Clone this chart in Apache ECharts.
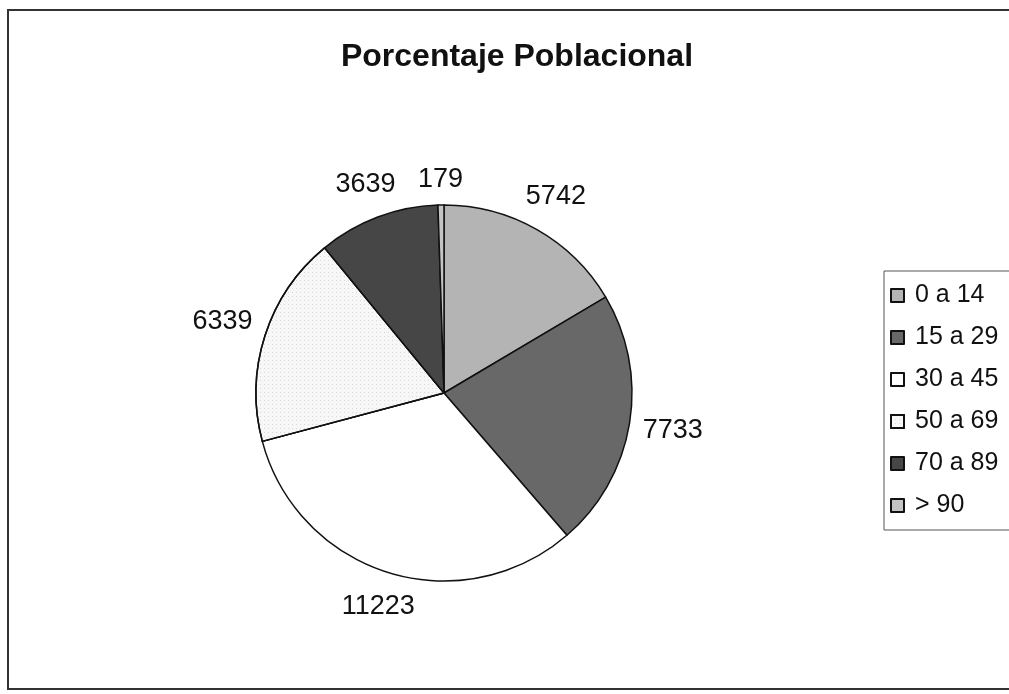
<!DOCTYPE html>
<html>
<head>
<meta charset="utf-8">
<title>Porcentaje Poblacional</title>
<script src="https://cdn.jsdelivr.net/npm/echarts@6/dist/echarts.min.js"></script>
<style>
  html, body { margin: 0; padding: 0; background: #fff; }
  #chart { width: 1009px; height: 694px; }
</style>
</head>
<body>
<div id="chart"></div>
<script>
// grupos de edad y población
const categories = ['0 a 14', '15 a 29', '30 a 45', '50 a 69', '70 a 89', '> 90']
const values = [5742, 7733, 11223, 6339, 3639, 179]
// tonos de gris de cada porción
const colors = ['#b4b4b4', '#686868', '#ffffff', '#f7f7f7', '#464646', '#c4c4c4']

const font = '"Liberation Sans", Arial, sans-serif'
const pieCenter = [444, 393]
const pieRadius = 188
const labelGap = 200 // distancia del centro al borde más cercano de la etiqueta

// ángulo medio de cada porción (desde las 12, sentido horario)
const total = values.reduce((a, b) => a + b, 0)
let acc = 0
const midAngles = values.map(v => {
  const a = (acc + v / 2) / total * Math.PI * 2
  acc += v
  return a
})

const chart = echarts.init(document.getElementById('chart'))

chart.setOption({
  animation: false,
  backgroundColor: '#fff',
  title: {
    text: 'Porcentaje Poblacional',
    left: 512,
    textAlign: 'center',
    top: 36,
    textStyle: { fontFamily: font, fontSize: 32, fontWeight: 'bold', color: '#111' }
  },
  // marco exterior
  graphic: [{
    type: 'rect',
    shape: { x: 8, y: 10, width: 1030, height: 679 },
    style: { fill: 'none', stroke: '#333', lineWidth: 2 }
  }],
  legend: {
    orient: 'vertical',
    left: 884,
    top: 271,
    data: categories,
    icon: 'rect',
    itemWidth: 13,
    itemHeight: 13,
    itemGap: 17,
    padding: [12, 40, 12, 6],
    borderColor: '#555',
    borderWidth: 1,
    textStyle: { fontFamily: font, fontSize: 25, color: '#111', padding: [0, 0, 0, 6] }
  },
  series: [{
    type: 'pie',
    center: pieCenter,
    radius: pieRadius,
    startAngle: 90,
    clockwise: true,
    data: categories.map((c, i) => ({
      name: c,
      value: values[i],
      itemStyle: i === 3
        ? { color: colors[i], decal: { symbol: 'rect', symbolSize: 1, dashArrayX: [1, 3], dashArrayY: [1, 3], color: 'rgba(0,0,0,0.12)' } }
        : { color: colors[i] }
    })),
    itemStyle: { borderColor: '#111', borderWidth: 1.5 },
    label: {
      show: true,
      position: 'outside',
      formatter: '{c}',
      fontFamily: font,
      fontSize: 27,
      color: '#111'
    },
    labelLine: { show: false },
    // etiquetas fuera del borde sobre el ángulo medio, como en Excel
    labelLayout: function (params) {
      const a = midAngles[params.dataIndex]
      const ux = Math.sin(a)
      const uy = -Math.cos(a)
      const hw = params.labelRect.width / 2
      const hh = 13
      const d = labelGap + hw * Math.abs(ux) + hh * Math.abs(uy)
      return {
        x: pieCenter[0] + d * ux,
        y: pieCenter[1] + d * uy,
        align: 'center',
        verticalAlign: 'middle'
      }
    },
    emphasis: { disabled: true }
  }]
})
</script>
</body>
</html>
